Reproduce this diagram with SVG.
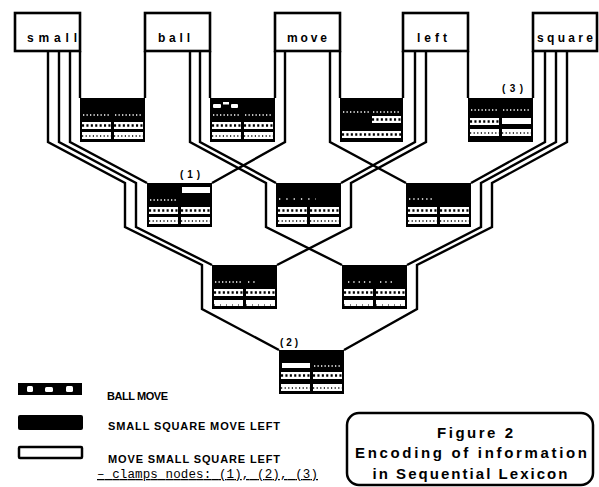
<svg xmlns="http://www.w3.org/2000/svg" width="599" height="487" viewBox="0 0 599 487">
<defs>
<style>
.box{fill:#fff;stroke:#000;stroke-width:2.6}
.wire{fill:none;stroke:#000;stroke-width:2.4;stroke-linejoin:miter}
.node{fill:#000}
.w{fill:#fff}
.dl{stroke:#fff;stroke-width:1.3;stroke-dasharray:1.3 2.2;fill:none}
.rg{stroke:#000;stroke-width:2.3;stroke-dasharray:2.1 2.3;fill:none}
.sp{stroke:#000;stroke-width:1.3;stroke-dasharray:1.2 2.4;fill:none}
.sp2{stroke:#000;stroke-width:1;stroke-dasharray:1 5;fill:none}
.word{font-family:"Liberation Sans",Arial,sans-serif;font-weight:bold;font-size:12px}
.tag{font-family:"Liberation Sans",Arial,sans-serif;font-weight:bold;font-size:10px}
.leg{font-family:"Liberation Sans",Arial,sans-serif;font-weight:bold;font-size:11px}
.cap{font-family:"Liberation Sans",Arial,sans-serif;font-weight:bold;font-size:15px}
.mono{font-family:"Liberation Mono","Courier New",monospace;font-size:12.5px}
</style>
<g id="rB"><line x1="1" y1="0" x2="28" y2="0" class="dl"/></g>
<g id="rC"><rect width="29" height="7" class="w"/><line x1="0" y1="3.5" x2="29" y2="3.5" class="rg"/></g>
<g id="rD"><rect width="29" height="7" class="w"/><line x1="0" y1="4" x2="29" y2="4" class="sp"/></g>
<g id="rE"><rect width="29" height="6" class="w"/><line x1="0" y1="5" x2="29" y2="5" class="sp2"/></g>
</defs>
<rect width="599" height="487" fill="#fff"/>

<g id="connectors">
<!-- first-level cup walls -->
<path class="wire" d="M80,51V98 M145,51V98 M210,51V98 M275,51V98 M340,51V98 M403,51V98 M468,51V98 M533,51V98"/>
<!-- second-level walls -->
<path class="wire" d="M70,51V142L147,183"/>
<path class="wire" d="M285,51V142L212,183"/>
<path class="wire" d="M200,51V142L276,183"/>
<path class="wire" d="M415,51V142L341,183"/>
<path class="wire" d="M330,51V142L406,183"/>
<path class="wire" d="M545,51V142L471,183"/>
<!-- third-level walls -->
<path class="wire" d="M59,51V142L136,183V227L212,265"/>
<path class="wire" d="M426,51V142L351,183V227L277,265"/>
<path class="wire" d="M190,51V142L266,183V227L342,265"/>
<path class="wire" d="M556,51V142L481,183V227L407,265"/>
<!-- fourth-level walls -->
<path class="wire" d="M48,51V142L125,183V227L202,265V309L279,350"/>
<path class="wire" d="M567,51V142L492,183V227L417,265V309L344,350"/>
</g>

<g id="word-small"><rect class="box" x="15" y="13" width="65" height="38"/><text class="word" x="27" y="42" textLength="50" lengthAdjust="spacing">small</text></g>
<g id="word-ball"><rect class="box" x="145" y="13" width="65" height="38"/><text class="word" x="158" y="42" textLength="32" lengthAdjust="spacing">ball</text></g>
<g id="word-move"><rect class="box" x="275" y="13" width="65" height="38"/><text class="word" x="287" y="42" textLength="40" lengthAdjust="spacing">move</text></g>
<g id="word-left"><rect class="box" x="403" y="13" width="65" height="38"/><text class="word" x="417" y="42" textLength="30" lengthAdjust="spacing">left</text></g>
<g id="word-square"><rect class="box" x="533" y="13" width="64" height="38"/><text class="word" x="537" y="42" textLength="56" lengthAdjust="spacing">square</text></g>

<g id="node-small-ball" transform="translate(80,98)">
<rect class="node" width="65" height="44"/>
<use href="#rB" x="2" y="17"/><use href="#rB" x="34" y="17"/>
<use href="#rC" x="2" y="24"/><use href="#rC" x="34" y="24"/>
<use href="#rD" x="2" y="34"/><use href="#rD" x="34" y="34"/>
</g>
<g id="node-ball-move" transform="translate(210,98)">
<rect class="node" width="65" height="44"/>
<rect class="w" x="3" y="6" width="8" height="4" rx="1"/><rect class="w" x="13" y="4" width="6" height="2.5"/><rect class="w" x="21" y="6" width="7" height="4" rx="1"/>
<use href="#rB" x="2" y="17"/><use href="#rB" x="34" y="17"/>
<use href="#rC" x="2" y="24"/><use href="#rC" x="34" y="24"/>
<use href="#rD" x="2" y="34"/><use href="#rD" x="34" y="34"/>
</g>
<g id="node-move-left" transform="translate(340,98)">
<rect class="node" width="63" height="44"/>
<use href="#rB" x="2" y="14"/><use href="#rB" x="32" y="14"/>
<use href="#rC" x="32" y="18"/>
<rect class="w" x="2" y="33" width="59" height="7"/><line x1="2" y1="36.5" x2="61" y2="36.5" class="rg"/>
</g>
<g id="node-left-square" transform="translate(468,98)">
<rect class="node" width="65" height="44"/>
<use href="#rB" x="2" y="12"/><use href="#rB" x="34" y="12"/>
<use href="#rC" x="2" y="20"/><rect class="w" x="34" y="20" width="29" height="6"/>
<use href="#rD" x="2" y="31"/><use href="#rD" x="34" y="31"/>
</g>

<g id="node-small-ball-move" transform="translate(147,183)">
<rect class="node" width="65" height="44"/>
<rect class="w" x="35" y="4" width="28" height="6"/>
<use href="#rB" x="2" y="17"/>
<use href="#rC" x="2" y="24"/><use href="#rC" x="34" y="24"/>
<use href="#rD" x="2" y="34"/><use href="#rD" x="34" y="34"/>
</g>
<g id="node-ball-move-left" transform="translate(276,183)">
<rect class="node" width="65" height="44"/>
<line x1="3" y1="16" x2="40" y2="16" class="dl" style="stroke-dasharray:1.3 6"/>
<use href="#rC" x="2" y="24"/><use href="#rC" x="34" y="24"/>
<use href="#rD" x="2" y="34"/><use href="#rD" x="34" y="34"/>
</g>
<g id="node-move-left-square" transform="translate(406,183)">
<rect class="node" width="65" height="44"/>
<line x1="3" y1="16" x2="28" y2="16" class="dl" style="stroke-dasharray:1.3 3"/>
<use href="#rC" x="2" y="24"/><use href="#rC" x="34" y="24"/>
<use href="#rD" x="2" y="34"/><use href="#rD" x="34" y="34"/>
</g>

<g id="node-small-ball-move-left" transform="translate(212,265)">
<rect class="node" width="65" height="44"/>
<use href="#rB" x="2" y="17"/><line x1="36" y1="17" x2="46" y2="17" class="dl" style="stroke-dasharray:1.3 4"/>
<use href="#rC" x="2" y="24"/><use href="#rC" x="34" y="24"/>
<use href="#rE" x="2" y="35"/><use href="#rE" x="34" y="35"/>
</g>
<g id="node-ball-move-left-square" transform="translate(342,265)">
<rect class="node" width="65" height="44"/>
<line x1="6" y1="17" x2="30" y2="17" class="dl" style="stroke-dasharray:1.3 4"/><line x1="38" y1="17" x2="50" y2="17" class="dl" style="stroke-dasharray:1.3 4"/>
<use href="#rC" x="2" y="24"/><use href="#rC" x="34" y="24"/>
<use href="#rE" x="2" y="35"/><use href="#rE" x="34" y="35"/>
</g>

<g id="node-all" transform="translate(279,350)">
<rect class="node" width="65" height="44"/>
<rect class="w" x="3" y="13" width="28" height="5"/><use href="#rB" x="34" y="16"/>
<use href="#rC" x="2" y="22"/><use href="#rC" x="34" y="22"/>
<use href="#rD" x="2" y="34"/><use href="#rD" x="34" y="34"/>
</g>

<g id="clamp-labels">
<text class="tag" x="180" y="178" textLength="20" lengthAdjust="spacing">(1)</text>
<text class="tag" x="280" y="346" textLength="18" lengthAdjust="spacing">(2)</text>
<text class="tag" x="502" y="92" textLength="21" lengthAdjust="spacing">(3)</text>
</g>

<g id="legend">
<rect x="18" y="383" width="64" height="12" fill="#000"/>
<rect class="w" x="27" y="386" width="6" height="6" rx="1.5"/><rect class="w" x="45" y="387" width="8" height="5" rx="1.5"/><rect class="w" x="66" y="386" width="7" height="6" rx="1.5"/>
<text class="leg" x="107" y="400" textLength="61" lengthAdjust="spacing">BALL MOVE</text>
<rect x="18" y="415" width="65" height="15" rx="2" fill="#000"/>
<text class="leg" x="108" y="430" textLength="172" lengthAdjust="spacing">SMALL SQUARE MOVE LEFT</text>
<rect x="19" y="447" width="63" height="11" rx="1" fill="#fff" stroke="#000" stroke-width="2.5"/>
<text class="leg" x="108" y="463" textLength="172" lengthAdjust="spacing">MOVE SMALL SQUARE LEFT</text>
<text class="mono" x="97" y="478" textLength="221" lengthAdjust="spacing" text-decoration="underline">– clamps nodes: (1), (2), (3)</text>
</g>

<g id="caption">
<rect x="347" y="413" width="246" height="72" rx="12" fill="#fff" stroke="#000" stroke-width="2.5"/>
<text class="cap" x="475" y="438" text-anchor="middle" textLength="76" lengthAdjust="spacing">Figure 2</text>
<text class="cap" x="471" y="458" text-anchor="middle" textLength="232" lengthAdjust="spacing">Encoding of information</text>
<text class="cap" x="470" y="479" text-anchor="middle" textLength="195" lengthAdjust="spacing">in Sequential Lexicon</text>
</g>
</svg>
